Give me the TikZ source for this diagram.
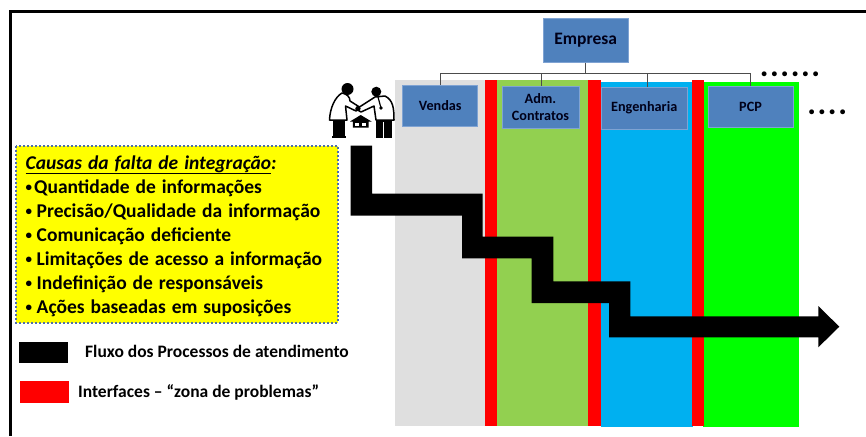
\documentclass[tikz,border=0pt]{standalone}
\usepackage{fontspec}
\setmainfont{Carlito}
\newfontfamily\causefont[WordSpace=1.35]{Carlito}
\definecolor{boxblue}{HTML}{4F81BD}
\definecolor{boxedge}{HTML}{7FA3D3}
\definecolor{colgray}{HTML}{DFDFDF}
\definecolor{colgreen}{HTML}{92D050}
\definecolor{colblue}{HTML}{00B0F0}
\definecolor{colbright}{HTML}{00FF00}
\definecolor{dotblue}{HTML}{4F6FA8}
\definecolor{causeyellow}{HTML}{FFFF00}
\newcommand{\dotcell}{\makebox[10.3pt]{•}}
\newcommand{\bulmark}{\raisebox{1.2pt}{\fontsize{13}{13}\selectfont •}}
\newcommand{\bul}{\makebox[11pt][l]{\bulmark}}
\tikzset{
  x=1pt,y=-1pt,
  deptbox/.style={rectangle,fill=boxblue,draw=boxedge,line width=.5pt,inner sep=0pt,align=center,text=black!90!blue,font=\fontsize{14.2}{17}\selectfont\bfseries},
  causeline/.style={anchor=base west,inner sep=0pt,font=\causefont\fontsize{19.5}{22}\selectfont\bfseries},
  legendtext/.style={anchor=base west,inner sep=0pt,font=\fontsize{17.5}{20}\selectfont\bfseries},
  orgline/.style={draw=black!70,line width=1pt},
  dotsrow/.style={inner sep=0pt,font=\fontsize{11.5}{14}\selectfont\bfseries},
}
\begin{document}
\begin{tikzpicture}
\useasboundingbox (0,0) rectangle (866,436);
% frame
\draw[line width=3pt] (866,11.5) -- (10,11.5) -- (10,436);
% columns
\fill[colgray] (395,80) rectangle (485.5,425.7);
\fill[colgreen] (497,80) rectangle (588.5,425.7);
\fill[colblue] (600.5,81.7) rectangle (692.5,426.7);
\fill[colbright] (703.3,82.3) rectangle (799.3,427);
\fill[red] (485.3,80) rectangle (497.3,425.7);
\fill[red] (588.3,80) rectangle (600.5,425.7);
\fill[red] (692.3,80) rectangle (703.5,425.7);
% boxes
\node[deptbox,minimum width=85pt,minimum height=43.5pt,font=\fontsize{17.5}{20}\selectfont\bfseries] (empresa) at (585.7,40.5) {Empresa};
\node[deptbox,minimum width=75pt,minimum height=41.7pt] (vendas) at (440.2,105.8) {Vendas};
\node[deptbox,minimum width=77pt,minimum height=42pt] (adm) at (540.5,107) {Adm.\\Contratos};
\node[deptbox,minimum width=85.5pt,minimum height=42pt] (eng) at (644.2,108) {Engenharia};
\node[deptbox,minimum width=85pt,minimum height=41.7pt] (pcp) at (750.5,106.8) {PCP};
\coordinate (bus) at (585.7,73.3);
\draw[orgline] (empresa.south) -- (bus) -| (vendas.north);
\draw[orgline] (bus) -| ([xshift=1pt]adm.north);
\draw[orgline] (bus) -| ([xshift=2.8pt]eng.north);
\draw[orgline] (bus) -| (pcp.north);
\node[dotsrow] (dotsa) at (790,74.7) {\dotcell\dotcell\dotcell\dotcell\dotcell\dotcell};
\node[dotsrow] (dotsb) at (827.2,112.7) {\dotcell\dotcell\dotcell\dotcell};
% flow arrow
\fill[black] (350.5,145.5) -- (372,145.5) -- (372,193.5) -- (482.7,193.5) -- (482.7,236.7) -- (553.3,236.7) -- (553.3,281.3) -- (630.3,281.3) -- (630.3,316.3) -- (818.3,316.3) -- (818.3,306) -- (839.3,326.7) -- (818.3,347.3) -- (818.3,337.3) -- (609,337.3) -- (609,303) -- (531.7,303) -- (531.7,258.3) -- (462,258.3) -- (462,215.7) -- (350.5,215.7) -- cycle;
% causes
\fill[causeyellow] (16,145.5) rectangle (337.5,322.5);
\draw[dotblue,line width=2pt,dash pattern=on 2pt off 2pt] (16,145.5) rectangle (337.5,322.5);
\node[causeline] (c0) at (25.5,169) {\underline{\itshape Causas da falta de integração}\textit{:}};
\node[causeline] (c1) at (25.5,193) {\makebox[8.5pt][l]{\bulmark}Quantidade de informações};
\node[causeline] (c2) at (25.5,217) {\bul Precisão/Qualidade da informação};
\node[causeline] (c3) at (25.5,241) {\bul Comunicação deficiente};
\node[causeline] (c4) at (25.5,265) {\bul Limitações de acesso a informação};
\node[causeline] (c5) at (25.5,289) {\bul Indefinição de responsáveis};
\node[causeline] (c6) at (25.5,313) {\bul Ações baseadas em suposições};
% legend
\fill[black] (18.7,342) rectangle (68,363);
\fill[red] (19.7,381) rectangle (69,402.7);
\node[legendtext] (l1) at (85,357) {Fluxo dos Processos de atendimento};
\node[legendtext] (l2) at (78,397) {Interfaces – “zona de problemas”};
% clip art: two men shaking hands over a house
\fill[black] (333,120) rectangle (345,136);
\fill[black] (332,136) rectangle (346,138);
\fill[black] (375.5,120) rectangle (392,138);
\fill[white] (382.8,122) rectangle (384.3,138);
\draw[black,fill=white,line width=1.5pt,line join=round] (342,93) .. controls (335,97) and (330,108) .. (329.5,120) -- (347,120) -- (345.5,106) -- (356,111) -- (361,108) -- (350,101) .. controls (350,97) and (347,94) .. (342,93) -- cycle;
\draw[black,fill=white,line width=1.5pt,line join=round] (375,97) -- (361,106) -- (356,109) -- (361,112) -- (374,106) -- (376,120) -- (394,120) .. controls (394,108) and (393,100) .. (385,96) -- cycle;
\fill[black] (347.5,89) circle (6);
\fill[black] (376.3,91.7) circle (5);
\draw[black,line width=1.2pt] (378,97) -- (381,108);
\fill[black] (381,108) circle (1.8);
\fill[black] (358,108.5) circle (2.6);
\fill[black] (350,121.5) -- (360.7,115) -- (371.5,121.5) -- (368.5,121.5) -- (368.5,127.5) -- (352.8,127.5) -- (352.8,121.5) -- cycle;
\fill[white] (354.8,122.5) rectangle (358.8,126);
\fill[white] (362.2,122.5) rectangle (366.2,126);
\end{tikzpicture}
\end{document}
